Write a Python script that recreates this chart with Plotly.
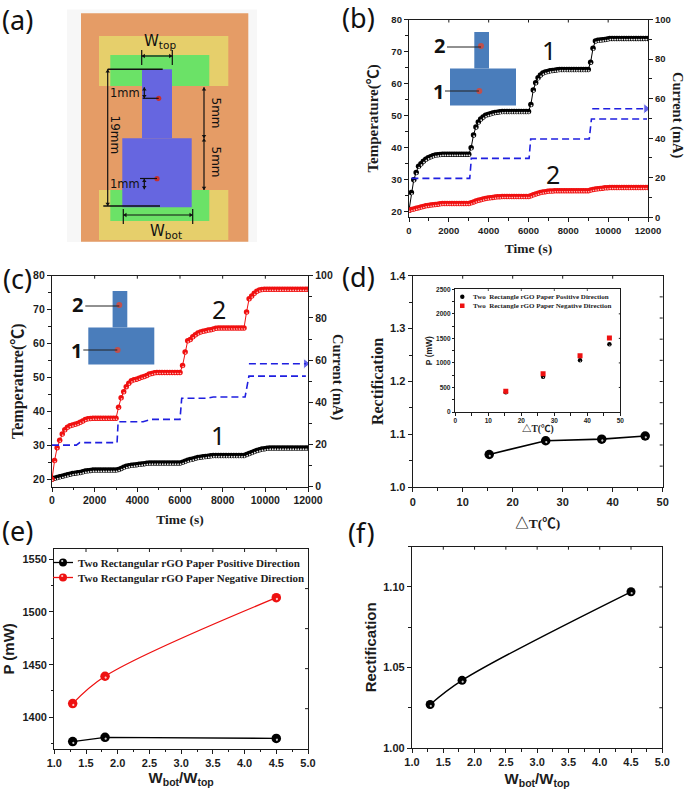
import plotly.graph_objects as go

W, H = 685, 793

# ---------- data ----------
time_s = [0,120,240,360,480,600,720,840,960,1080,1200,1320,1440,1560,1680,1800,1920,2040,2160,2280,2400,2520,2640,2760,2880,3000,
 3120,3240,3360,3480,3600,3720,3840,3960,4080,4200,4320,4440,4560,4680,4800,4920,5040,5160,5280,5400,5520,5640,5760,5880,6000,
 6120,6240,6360,6480,6600,6720,6840,6960,7080,7200,7320,7440,7560,7680,7800,7920,8040,8160,8280,8400,8520,8640,8760,8880,9000,
 9120,9240,9360,9480,9600,9720,9840,9960,10080,10200,10320,10440,10560,10680,10800,10920,11040,11160,11280,11400,11520,11640,11760,11880,12000]

b_temp1 = [20.5,26,30,32.3,34.2,35,35.8,36.4,36.9,37.2,37.5,37.7,37.8,37.9,38,38,38,38,38,38,38,38,38,38,38,38,
 40,44,46.5,48,49,49.6,50.1,50.4,50.6,50.8,51,51.1,51.2,51.3,51.3,51.3,51.3,51.3,51.3,51.3,51.3,51.3,51.3,51.3,51.3,
 53.5,58,60.3,61.8,62.7,63.3,63.6,63.8,64,64.1,64.2,64.3,64.4,64.4,64.4,64.4,64.4,64.4,64.4,64.4,64.4,64.4,64.4,64.4,64.4,
 66.7,71,73.3,73.5,73.6,73.7,73.8,73.9,74.1,74.1,74.1,74.1,74.1,74.1,74.1,74.1,74.1,74.1,74.1,74.1,74.1,74.1,74.1,74.1,74.1]
b_temp2 = [20.5,20.7,20.9,21.1,21.3,21.5,21.7,21.9,22,22.1,22.2,22.3,22.4,22.5,22.6,22.6,22.6,22.6,22.6,22.6,22.6,22.6,22.6,22.6,22.6,22.6,
 22.8,23.1,23.4,23.6,23.8,24,24.2,24.3,24.4,24.5,24.6,24.7,24.7,24.8,24.8,24.8,24.8,24.8,24.8,24.8,24.8,24.8,24.8,24.8,24.8,
 25,25.3,25.6,25.8,26,26.2,26.3,26.4,26.5,26.5,26.6,26.6,26.6,26.6,26.6,26.6,26.6,26.6,26.6,26.6,26.6,26.6,26.6,26.6,26.6,
 26.8,27,27.1,27.2,27.3,27.4,27.5,27.5,27.6,27.6,27.6,27.6,27.6,27.6,27.6,27.6,27.6,27.6,27.6,27.6,27.6,27.6,27.6,27.6,27.6]
b_cur_t = [120,3050,3130,6030,6110,9050,9160,11950]
b_cur = [19.7,19.7,29.8,29.8,39.6,39.6,49.7,49.7]
b_cur2_t = [9200,11900]
b_cur2 = [54.9,54.9]

c_temp2 = [20,25.5,29.3,31.5,33.3,34.6,35.3,35.8,36,36.2,36.4,36.8,37.2,37.6,37.8,37.9,38,38,38,38,38,38,38,38,38,38,
 41.2,44,45.8,47.3,48.3,49,49.3,49.5,49.8,50.1,50.3,50.6,51,51.2,51.4,51.5,51.5,51.5,51.5,51.5,51.5,51.5,51.5,51.5,51.5,
 53.5,57.5,60.8,61.2,62,62.6,63.1,63.4,63.6,63.8,64,64.1,64.3,64.5,64.6,64.6,64.6,64.6,64.6,64.6,64.6,64.6,64.6,64.6,64.6,
 69.3,73.2,74,74.8,75.4,75.8,75.9,76,76,76,76,76,76,76,76,76,76,76,76,76,76,76,76,76,76]
c_temp1 = [20.1,20.3,20.5,20.7,20.9,21.1,21.3,21.5,21.7,21.8,21.9,22,22.2,22.4,22.5,22.6,22.7,22.7,22.7,22.7,22.7,22.7,22.7,22.7,22.7,22.7,
 22.9,23.2,23.5,23.8,24,24.1,24.2,24.3,24.4,24.5,24.6,24.7,24.8,24.8,24.8,24.8,24.8,24.8,24.8,24.8,24.8,24.8,24.8,24.8,24.8,
 25,25.3,25.6,25.8,26,26.2,26.4,26.5,26.6,26.7,26.8,26.9,27,27,27,27,27,27,27,27,27,27,27,27,27,
 27.3,27.6,27.9,28.2,28.5,28.7,28.9,29,29.1,29.2,29.2,29.2,29.2,29.2,29.2,29.2,29.2,29.2,29.2,29.2,29.2,29.2,29.2,29.2,29.2]
c_cur_t = [0,1140,1300,3050,3100,4270,4660,6000,6080,7240,7560,9050,9230,11900]
c_cur = [19.7,19.7,20.9,20.9,30.8,30.8,31.9,31.9,41.9,41.9,42.5,42.5,52.4,52.4]
c_cur2_t = [9230,11900]
c_cur2 = [58.3,58.3]

d_dt = [15.3,26.6,37.8,46.5]
d_rect = [1.062,1.088,1.091,1.097]
inset_dt = [15.3,26.6,37.8,46.7]
inset_pos = [400,720,1053,1380]
inset_neg = [421,781,1148,1508]

ratio = [1.29,1.8,4.5]
e_pos = [1377,1381,1380]
e_neg = [1413,1439,1513.6]
f_rect = [1.027,1.042,1.097]

BOLD_SANS = "Liberation Sans"
SERIF = "Liberation Serif, Noto Sans CJK SC"
INK = "#1c1c1c"
BLUE = "#1f1fe0"

layout = dict(width=W, height=H, autosize=False, margin=dict(l=0, r=0, t=0, b=0, pad=0, autoexpand=False),
              paper_bgcolor="white", plot_bgcolor="rgba(0,0,0,0)", showlegend=False)

# full-page helper axes in pixels, used for the schematic drawings and free labels
layout["xaxis"] = dict(domain=[0, 1], range=[0, W], visible=False, fixedrange=True)
layout["yaxis"] = dict(domain=[0, 1], range=[H, 0], visible=False, fixedrange=True)

shapes, notes = [], []
axis_n = [1]
def new_id():
    axis_n[0] += 1
    return axis_n[0]

def minor(dt, ln=2.5, ticks="outside"):
    return dict(ticks=ticks, ticklen=ln, dtick=dt, tickcolor=INK, tickwidth=1, showgrid=False)

def edge_ticks(xa, ya, top_vals, right_vals, w_px, h_px, ln):
    # short inward ticks along the top and right edges, placed in data units
    for v in top_vals:
        shapes.append(dict(type="line", xref=xa, yref=f"{ya} domain", x0=v, x1=v, y0=1, y1=1 - ln / h_px,
                           line=dict(color=INK, width=1), layer="above"))
    for v in right_vals:
        shapes.append(dict(type="line", xref=f"{xa} domain", yref=ya, y0=v, y1=v, x0=1, x1=1 - ln / w_px,
                           line=dict(color=INK, width=1), layer="above"))

def steps(lo, hi, dt):
    out, k = [], 1
    while lo + k * dt < hi - 1e-9:
        out.append(lo + k * dt)
        k += 1
    return out

def panel(x0, x1, y0, y1, xr, yr, xd, yd, xmin, ymin, tick_font, xtitle, ytitle,
          xt_font, yt_font, xstand, ystand, right=None, lw=1.3, tl=4, right_dt=None,
          xfmt="d", yfmt="d"):
    n = new_id()
    base = dict(showline=True, linecolor=INK, linewidth=lw, showgrid=False, zeroline=False, fixedrange=True,
                ticks="outside", ticklen=tl, tickwidth=1.1, tickcolor=INK, tickfont=tick_font)
    xa = dict(base, domain=[x0 / W, x1 / W], range=xr, dtick=xd, tick0=0, anchor=f"y{n}", minor=minor(xmin),
              tickformat=xfmt, mirror=True)
    ya = dict(base, domain=[1 - y1 / H, 1 - y0 / H], range=yr, dtick=yd, tick0=0, anchor=f"x{n}", minor=minor(ymin),
              tickformat=yfmt, mirror=True)
    xa["title"] = dict(text=xtitle, font=xt_font, standoff=xstand)
    ya["title"] = dict(text=ytitle, font=yt_font, standoff=ystand)
    layout[f"xaxis{n}"] = xa
    layout[f"yaxis{n}"] = ya
    second = None
    if right:
        r = new_id()
        second = f"y{r}"
        layout[f"yaxis{r}"] = dict(base, domain=ya["domain"], range=right["range"], overlaying=f"y{n}", side="right",
                                   anchor=f"x{n}", dtick=right["dtick"], tick0=0, minor=minor(right["minor"]),
                                   tickformat="d")
    edge_ticks(f"x{n}", f"y{n}", steps(xr[0], xr[1], xd), [] if right else steps(yr[0], yr[1], right_dt or yd),
               x1 - x0, y1 - y0, tl - 1)
    return f"x{n}", f"y{n}", second

traces = []

def spheres(x, y, xa, ya, color, size, lw, hi_size, hi_off, name=None, shape="linear",
            hi_color="#c8c8c8", symbol="circle", line=True):
    traces.append(go.Scatter(
        x=x, y=y, xaxis=xa, yaxis=ya, mode="lines+markers" if line else "markers",
        line=dict(color=color, width=lw, shape=shape, smoothing=1.0),
        marker=dict(color=color, size=size, symbol=symbol),
        name=name or "", hoverinfo="skip"))
    if hi_size:
        traces.append(go.Scatter(
            x=x, y=y, xaxis=xa, yaxis=ya, mode="markers",
            marker=dict(color=hi_color, size=hi_size, angle=-25, standoff=hi_off, line=dict(width=0)),
            hoverinfo="skip"))

def dashed(x, y, xa, ya, arrow=False):
    mk = dict(symbol="triangle-right", color=BLUE, size=[0] * (len(x) - 1) + [9])
    traces.append(go.Scatter(x=x, y=y, xaxis=xa, yaxis=ya,
                             mode="lines+markers" if arrow else "lines",
                             line=dict(color=BLUE, width=1.6, dash="7px,4px"),
                             marker=mk if arrow else None, hoverinfo="skip"))

tf9 = dict(family=BOLD_SANS, size=9.5, color=INK, weight="bold")
tf10 = dict(family=BOLD_SANS, size=10.5, color=INK, weight="bold")
tf11 = dict(family=BOLD_SANS, size=11, color=INK, weight="bold")
tf7 = dict(family=BOLD_SANS, size=6.5, color=INK, weight="bold")
serif14 = dict(family=SERIF, size=13.5, color=INK, weight="bold")
serif15 = dict(family=SERIF, size=15, color=INK, weight="bold")
serif16 = dict(family=SERIF, size=16, color=INK, weight="bold")
sans15 = dict(family=BOLD_SANS, size=15, color=INK, weight="bold")

# ---------- panel b ----------
xb, yb, yb2 = panel(409, 648, 19.5, 217.3, [0, 12000], [18.3, 80], 2000, 10, 1000, 5, tf9,
                    "Time (s)", "Temperature(℃)", serif14, serif15, 8, 9,
                    right=dict(range=[0, 100], dtick=20, minor=10))
spheres(time_s, b_temp1, xb, yb, "#000000", 5.5, 1, 1.8, 1.4, hi_color="#e8e8e8")
spheres(time_s, b_temp2, xb, yb, "#f01010", 5.5, 1, 1.6, 1.2, hi_color="#ffc0c0")
dashed(b_cur_t, b_cur, xb, yb2)
dashed(b_cur2_t, b_cur2, xb, yb2, arrow=True)

# ---------- panel c ----------
xc, yc, yc2 = panel(52, 308, 275.7, 486.7, [0, 12000], [17.8, 80], 2000, 10, 1000, 5, tf10,
                    "Time (s)", "Temperature(℃)", serif14, serif16, 9, 5,
                    right=dict(range=[0, 100], dtick=20, minor=10))
spheres(time_s, c_temp1, xc, yc, "#000000", 5.5, 1, 1.8, 1.4, hi_color="#e8e8e8")
spheres(time_s, c_temp2, xc, yc, "#f01010", 5.5, 1, 1.6, 1.2, hi_color="#ffc0c0")
dashed(c_cur_t, c_cur, xc, yc2)
dashed(c_cur2_t, c_cur2, xc, yc2, arrow=True)

# ---------- panel d ----------
xd, yd, _ = panel(412.7, 662.7, 275.7, 487.3, [0, 50], [1.0, 1.4], 10, 0.1, 5, 0.05, tf11,
                  "△T(℃)", "Rectification", serif14, serif16, 11, 2, right_dt=0.04, yfmt=".1f")
spheres(d_dt, d_rect, xd, yd, "#000000", 9.5, 1.6, 2.2, 1.5)
# inset of d
xi, yi, _ = panel(455.3, 620.3, 289.3, 412, [0, 50], [0, 2500], 10, 500, 5, 250, tf7,
                  "△T(℃)", "P (mW)", dict(family=SERIF, size=9.5, color=INK, weight="bold"),
                  dict(family=BOLD_SANS, size=8.5, color=INK, weight="bold"), 1, 2, lw=1, tl=2.5)
spheres(inset_dt, inset_pos, xi, yi, "#000000", 4.5, 0, 1.2, 1, name="Two  Rectangle rGO Paper Positive Direction",
        line=False)
spheres(inset_dt, inset_neg, xi, yi, "#ee1111", 5, 0, 0, 0, name="Two  Rectangle rGO Paper Negative Direction",
        symbol="square", line=False)

# ---------- panel e ----------
xe, ye, _ = panel(54.3, 308, 549, 748.7, [1.0, 5.0], [1370.2, 1559.8], 0.5, 50, 0.25, 25, tf11,
                  "W<sub>bot</sub>/W<sub>top</sub>", "P (mW)", sans15, sans15, 4, 6, right_dt=38,
                  xfmt=".1f")
spheres(ratio, e_pos, xe, ye, "#000000", 9.5, 1.3, 2.2, 1.5, name="Two Rectangular rGO Paper Positive Direction")
spheres(ratio, e_neg, xe, ye, "#ee1111", 9.5, 1.3, 2.2, 1.5, name="Two Rectangular rGO Paper Negative Direction",
        shape="spline", hi_color="#ffc8c8")

# ---------- panel f ----------
xf, yf, _ = panel(412, 662.3, 546.7, 748, [1.0, 5.0], [1.0, 1.125], 0.5, 0.05, 0.25, 0.025, tf11,
                  "W<sub>bot</sub>/W<sub>top</sub>", "Rectification", sans15, sans15, 6, 2, right_dt=0.025,
                  xfmt=".1f", yfmt=".2f")
spheres(ratio, f_rect, xf, yf, "#000000", 9, 1.4, 2.2, 1.5, shape="spline")

# ---------- pixel-space drawing helpers ----------
def rect(x0, y0, x1, y1, c):
    shapes.append(dict(type="rect", xref="x", yref="y", x0=x0, y0=y0, x1=x1, y1=y1, fillcolor=c,
                       line=dict(width=0), layer="above"))

def seg(x0, y0, x1, y1, w=1.2, c="#111111"):
    shapes.append(dict(type="line", xref="x", yref="y", x0=x0, y0=y0, x1=x1, y1=y1,
                       line=dict(color=c, width=w), layer="above"))

def dot(cx, cy, r, c):
    shapes.append(dict(type="circle", xref="x", yref="y", x0=cx - r, y0=cy - r, x1=cx + r, y1=cy + r,
                       fillcolor=c, line=dict(width=0), layer="above"))

def label(x, y, t, size, family="DejaVu Sans", color="#111111", angle=0, weight="normal", anchor="center"):
    notes.append(dict(xref="x", yref="y", x=x, y=y, text=t, showarrow=False, textangle=angle,
                      font=dict(family=family, size=size, color=color, weight=weight),
                      xanchor=anchor, yanchor="middle"))

def arrow(x0, y0, x1, y1):
    seg(x0, y0, x1, y1)
    s = 3.2
    for (px, py, sx, sy) in [(x0, y0, 1, 1), (x1, y1, -1, -1)]:
        if x0 == x1:
            path = f"M{px},{py} L{px-s*0.7},{py+sy*s} L{px+s*0.7},{py+sy*s} Z"
        else:
            path = f"M{px},{py} L{px+sx*s},{py-s*0.7} L{px+sx*s},{py+s*0.7} Z"
        shapes.append(dict(type="path", xref="x", yref="y", path=path, fillcolor="#111111",
                           line=dict(width=0), layer="above"))

# panel labels
for t, x, y in [("(a)", 17, 19), ("(b)", 358, 17), ("(c)", 17, 278), ("(d)", 358, 276), ("(e)", 17, 530), ("(f)", 361, 532)]:
    label(x, y, t, 27, family="Noto Sans", color="#111111")

# schematic (a)
rect(67, 9.5, 257, 242, "#f7f7f7")
rect(81, 13.3, 248.3, 241.7, "#e59c66")
rect(99, 36, 228.3, 86, "#e6cf6b")
rect(99, 190, 228.3, 240, "#e6cf6b")
rect(110.3, 55, 209.3, 86, "#6be267")
rect(110.3, 190, 209.3, 221, "#6be267")
rect(142, 69.3, 172, 138.3, "#6666e0")
rect(122.3, 138.3, 191.7, 207.3, "#6666e0")
dot(158.7, 98.3, 2.6, "#c8302e")
dot(157, 178.7, 2.6, "#c8302e")
seg(141.7, 50, 141.7, 65); seg(172.3, 50, 172.3, 65); arrow(141.7, 56, 172.3, 56)
seg(107.7, 69.3, 162.7, 69.3, 1.4); seg(103.3, 206, 160, 206, 1.4)
arrow(107.7, 69.3, 107.7, 206)
arrow(144.3, 87.3, 144.3, 98.3); seg(142.7, 98.3, 158.7, 98.3)
arrow(144.3, 178.7, 144.3, 189.3); seg(140, 178.5, 157, 178.5)
arrow(204, 87.3, 204, 138.3); arrow(204, 138.3, 204, 190)
seg(123.3, 209, 123.3, 224); seg(192.7, 209, 192.7, 224); arrow(123.3, 215, 192.7, 215)
label(160, 41, "W<sub>top</sub>", 15)
label(125, 92.5, "1mm", 11.5)
label(125, 184, "1mm", 11.5)
label(114.5, 135, "19mm", 12, angle=90)
label(216, 112.5, "5mm", 12, angle=90)
label(216, 161.5, "5mm", 12, angle=90)
label(166, 231, "W<sub>bot</sub>", 15)

# T-shape insets for b and c
def t_inset(ox, oy):
    rect(ox + 129.3, oy + 31, ox + 144, oy + 67.5, "#4a7dbb")
    rect(ox + 105, oy + 67.5, ox + 171, oy + 104.5, "#4a7dbb")
    dot(ox + 136, oy + 45, 3, "#c0504d")
    dot(ox + 134.3, oy + 90, 3, "#c0504d")
    seg(ox + 102, oy + 46, ox + 136, oy + 46, 1, "#222222")
    seg(ox + 100, oy + 90, ox + 134, oy + 90, 1, "#222222")
    label(ox + 94.5, oy + 44, "2", 20, family="Noto Sans", weight="bold")
    label(ox + 93, oy + 90.5, "1", 20, family="Noto Sans", weight="bold")

t_inset(345, 1)
t_inset(-16.7, 260)

# large series numbers
label(549, 50, "1", 25, family="Noto Sans")
label(553, 174, "2", 25, family="Noto Sans")
label(219, 309, "2", 25, family="Noto Sans")
label(218, 435, "1", 25, family="Noto Sans")

# right-hand axis titles, reading top to bottom
label(678, 115, "Current (mA)", 14.5, family=SERIF, color=INK, angle=90, weight="bold")
label(338, 377, "Current (mA)", 14.5, family=SERIF, color=INK, angle=90, weight="bold")

# legend of panel e
def key(cx, cy, color, hi):
    seg(cx - 10, cy, cx + 10, cy, 1.3, color)
    dot(cx, cy, 4, color)
    dot(cx - 0.8, cy - 1.5, 1.1, hi)

key(63, 562.5, "#000000", "#d0d0d0")
key(63, 577.5, "#ee1111", "#ffc8c8")
label(76, 562.5, "Two Rectangular rGO Paper Positive Direction", 11, family=SERIF, color=INK, weight="bold", anchor="left")
label(76, 577.5, "Two Rectangular rGO Paper Negative Direction", 11, family=SERIF, color=INK, weight="bold", anchor="left")

# legend of the inset in panel d
dot(462.3, 296.7, 2.2, "#000000")
rect(460, 303.5, 464.5, 308, "#ee1111")
label(471, 296.7, "Two  Rectangle rGO Paper Positive Direction", 7, family=SERIF, color=INK, weight="bold", anchor="left")
label(471, 305.8, "Two  Rectangle rGO Paper Negative Direction", 7, family=SERIF, color=INK, weight="bold", anchor="left")

layout["shapes"] = shapes
layout["annotations"] = notes

fig = go.Figure(data=traces, layout=layout)
fig.write_html("out.html", post_script="document.body.style.margin='0';document.body.style.background='white';",
               config=dict(displayModeBar=False))
